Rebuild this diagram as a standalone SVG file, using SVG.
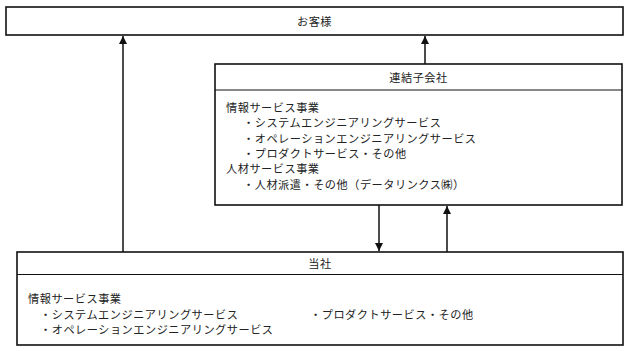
<svg xmlns="http://www.w3.org/2000/svg" width="629" height="351" viewBox="0 0 629 351">
<style>
.box{fill:#fff;stroke:#111;stroke-width:1.6}
.div{stroke:#111;stroke-width:1.2;fill:none}
.con{stroke:#111;stroke-width:1.5;fill:none}
text{font-family:"Noto Sans CJK JP","Noto Sans",sans-serif;font-size:11.2px;letter-spacing:0.5px;fill:#222;dominant-baseline:central}
.t{text-anchor:middle}
</style>
<defs>
<marker id="ah" markerUnits="userSpaceOnUse" markerWidth="8" markerHeight="10" refX="8" refY="4" orient="auto" viewBox="0 0 8 8">
<path d="M0,0 L8,4 L0,8 Z" fill="#111"/>
</marker>
</defs>
<g id="connectors">
<line class="con" x1="123" y1="252" x2="123" y2="36" marker-end="url(#ah)"/>
<line class="con" x1="425" y1="64" x2="425" y2="36" marker-end="url(#ah)"/>
<line class="con" x1="379" y1="205" x2="379" y2="251" marker-end="url(#ah)"/>
<line class="con" x1="447" y1="252" x2="447" y2="206" marker-end="url(#ah)"/>
</g>
<g id="customer">
<rect class="box" x="6" y="7" width="617" height="28"/>
<text class="t" x="314.5" y="21">お客様</text>
</g>
<g id="subsidiary">
<rect class="box" x="215" y="64" width="407" height="141"/>
<line class="div" x1="215" y1="90" x2="622" y2="90"/>
<text class="t" x="418.5" y="77">連結子会社</text>
<text x="226" y="107">情報サービス事業</text>
<text x="243" y="122.3">・システムエンジニアリングサービス</text>
<text x="243" y="137.6">・オペレーションエンジニアリングサービス</text>
<text x="243" y="152.9">・プロダクトサービス・その他</text>
<text x="226" y="168.2">人材サービス事業</text>
<text x="243" y="183.5">・人材派遣・その他（データリンクス㈱）</text>
</g>
<g id="company">
<rect class="box" x="17" y="252" width="606" height="93"/>
<line class="div" x1="17" y1="274.5" x2="623" y2="274.5"/>
<text class="t" x="320" y="263">当社</text>
<text x="28" y="298">情報サービス事業</text>
<text x="40" y="313.5">・システムエンジニアリングサービス</text>
<text x="40" y="329">・オペレーションエンジニアリングサービス</text>
<text x="310" y="313.5">・プロダクトサービス・その他</text>
</g>
</svg>
